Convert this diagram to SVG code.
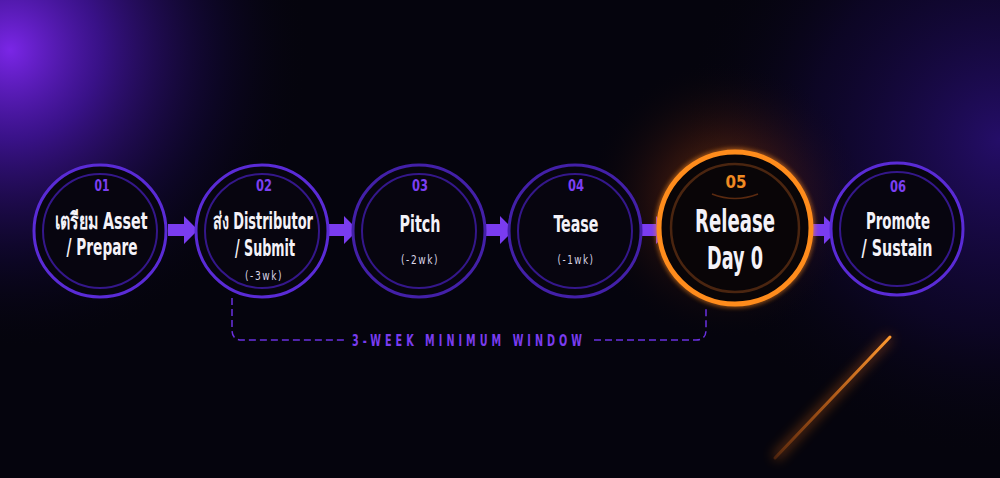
<svg xmlns="http://www.w3.org/2000/svg" width="1000" height="478" viewBox="0 0 1000 478">
  <defs>
    <radialGradient id="glowTL" cx="10" cy="50" r="300" gradientUnits="userSpaceOnUse">
      <stop offset="0" stop-color="#7a26e6"/>
      <stop offset="0.3" stop-color="#4a16b0" stop-opacity="0.75"/>
      <stop offset="0.7" stop-color="#1a0a50" stop-opacity="0.35"/>
      <stop offset="1" stop-color="#05040d" stop-opacity="0"/>
    </radialGradient>
    <radialGradient id="glowR" cx="1000" cy="140" r="320" gradientUnits="userSpaceOnUse">
      <stop offset="0" stop-color="#2a0f78" stop-opacity="0.85"/>
      <stop offset="0.6" stop-color="#150840" stop-opacity="0.45"/>
      <stop offset="1" stop-color="#05040d" stop-opacity="0"/>
    </radialGradient>
    <radialGradient id="glowO" cx="725" cy="200" r="140" gradientUnits="userSpaceOnUse">
      <stop offset="0" stop-color="#ff7a10" stop-opacity="0.45"/>
      <stop offset="0.5" stop-color="#a03a10" stop-opacity="0.2"/>
      <stop offset="1" stop-color="#05040d" stop-opacity="0"/>
    </radialGradient>
    <linearGradient id="streak" x1="890" y1="337" x2="775" y2="458" gradientUnits="userSpaceOnUse">
      <stop offset="0" stop-color="#ff9a30"/>
      <stop offset="1" stop-color="#ff7010" stop-opacity="0.2"/>
    </linearGradient>
    <filter id="blur" x="-50%" y="-50%" width="200%" height="200%"><feGaussianBlur stdDeviation="6"/></filter>
    <filter id="soft" x="-20%" y="-20%" width="140%" height="140%"><feGaussianBlur stdDeviation="2"/></filter>
    <path id="arrow" d="M0,-6 H16 V-14 L30,0 L16,14 V6 H0 Z"/>
  </defs>
  <style>
    .outer { fill: #07050f; stroke: #5a2bd6; stroke-width: 3; }
    .outer.dim { stroke: #4320a8; }
    .inner { fill: none; stroke: #34178a; stroke-width: 2; }
    .num { font-family: "DejaVu Sans Condensed", "Liberation Sans", sans-serif; font-weight: bold; font-size: 16px; fill: #7b3ff2; text-anchor: middle; }
    .lbl { font-family: "DejaVu Sans Condensed", "Noto Sans", "Liberation Sans", sans-serif; font-weight: bold; font-size: 23px; fill: #f4f2f8; text-anchor: middle; }
    .big { font-size: 32px; }
    .sub { font-family: "DejaVu Sans Condensed", sans-serif; font-size: 13px; fill: #d8d4e4; text-anchor: middle; letter-spacing: 2px; }
    .arr { fill: #7a3cf0; }
    .bracket { fill: none; stroke: #6a30e0; stroke-width: 1.5; stroke-dasharray: 7 4; }
    .wnd { font-family: "DejaVu Sans Condensed", sans-serif; font-weight: bold; font-size: 16px; fill: #7a3cf0; text-anchor: middle; letter-spacing: 6px; }
  </style>

  <!-- background -->
  <rect width="1000" height="478" fill="#05040d"/>
  <rect width="1000" height="478" fill="url(#glowTL)"/>
  <rect width="1000" height="478" fill="url(#glowR)"/>
  <rect width="1000" height="478" fill="url(#glowO)"/>
  <line x1="890" y1="337" x2="775" y2="458" stroke="#ff7a18" stroke-width="8" opacity="0.35" filter="url(#blur)"/>
  <line x1="890" y1="337" x2="775" y2="458" stroke="url(#streak)" stroke-width="3" stroke-linecap="round"/>

  <!-- connectors -->
  <g id="connectors">
    <use href="#arrow" class="arr" x="168" y="230"/>
    <use href="#arrow" class="arr" x="328" y="230"/>
    <use href="#arrow" class="arr" x="484" y="230"/>
    <use href="#arrow" class="arr" x="640" y="230"/>
    <use href="#arrow" class="arr" x="808" y="230"/>
    <path class="bracket" d="M232,298 V330 Q232,340 242,340 H345"/>
    <path class="bracket" d="M594,340 H696 Q706,340 706,330 V306"/>
    <text class="wnd" x="469" y="346" textLength="234" lengthAdjust="spacingAndGlyphs">3-WEEK MINIMUM WINDOW</text>
  </g>

  <g id="node1">
    <circle class="outer" cx="100" cy="231" r="66"/>
    <circle class="inner" cx="100" cy="231" r="57"/>
    <text class="num" x="102" y="191" textLength="15" lengthAdjust="spacingAndGlyphs">01</text>
    <text class="lbl" x="101" y="229" textLength="93" lengthAdjust="spacingAndGlyphs">เตรียม Asset</text>
    <text class="lbl" x="102" y="255" textLength="71" lengthAdjust="spacingAndGlyphs">/ Prepare</text>
  </g>
  <g id="node2">
    <circle class="outer" cx="262" cy="231" r="66"/>
    <circle class="inner" cx="262" cy="231" r="57"/>
    <text class="num" x="264" y="191" textLength="16" lengthAdjust="spacingAndGlyphs">02</text>
    <text class="lbl" x="263" y="229" textLength="100" lengthAdjust="spacingAndGlyphs">ส่ง Distributor</text>
    <text class="lbl" x="265" y="256" textLength="60" lengthAdjust="spacingAndGlyphs">/ Submit</text>
    <text class="sub" x="264" y="280" textLength="38" lengthAdjust="spacingAndGlyphs">(-3wk)</text>
  </g>
  <g id="node3">
    <circle class="outer dim" cx="419" cy="231" r="66"/>
    <circle class="inner" cx="419" cy="231" r="57"/>
    <text class="num" x="420" y="191" textLength="16" lengthAdjust="spacingAndGlyphs">03</text>
    <text class="lbl" x="420" y="232" textLength="41" lengthAdjust="spacingAndGlyphs">Pitch</text>
    <text class="sub" x="420" y="264" textLength="38" lengthAdjust="spacingAndGlyphs">(-2wk)</text>
  </g>
  <g id="node4">
    <circle class="outer dim" cx="575" cy="231" r="66"/>
    <circle class="inner" cx="575" cy="231" r="57"/>
    <text class="num" x="576" y="191" textLength="16" lengthAdjust="spacingAndGlyphs">04</text>
    <text class="lbl" x="576" y="232" textLength="45" lengthAdjust="spacingAndGlyphs">Tease</text>
    <text class="sub" x="576" y="264" textLength="37" lengthAdjust="spacingAndGlyphs">(-1wk)</text>
  </g>
  <g id="node5">
    <circle cx="735" cy="228" r="76" fill="none" stroke="#ff8a1a" stroke-width="8" opacity="0.5" filter="url(#soft)"/>
    <circle cx="735" cy="228" r="76" fill="#090507" stroke="#ff8c1c" stroke-width="5"/>
    <circle cx="735" cy="228" r="64" fill="none" stroke="#4a2510" stroke-width="2.5"/>
    <path d="M712,194 Q735,203 758,194" fill="none" stroke="#5a2a10" stroke-width="1.5"/>
    <text class="num" x="736" y="188" textLength="21" lengthAdjust="spacingAndGlyphs" style="fill:#f08a22;font-size:18px">05</text>
    <text class="lbl big" x="735" y="232" textLength="80" lengthAdjust="spacingAndGlyphs">Release</text>
    <text class="lbl big" x="735" y="269" textLength="56" lengthAdjust="spacingAndGlyphs">Day 0</text>
  </g>
  <g id="node6">
    <circle class="outer" cx="897" cy="229" r="66"/>
    <circle class="inner" cx="897" cy="229" r="57"/>
    <text class="num" x="898" y="192" textLength="16" lengthAdjust="spacingAndGlyphs">06</text>
    <text class="lbl" x="898" y="229" textLength="64" lengthAdjust="spacingAndGlyphs">Promote</text>
    <text class="lbl" x="897" y="256" textLength="71" lengthAdjust="spacingAndGlyphs">/ Sustain</text>
  </g>
</svg>
